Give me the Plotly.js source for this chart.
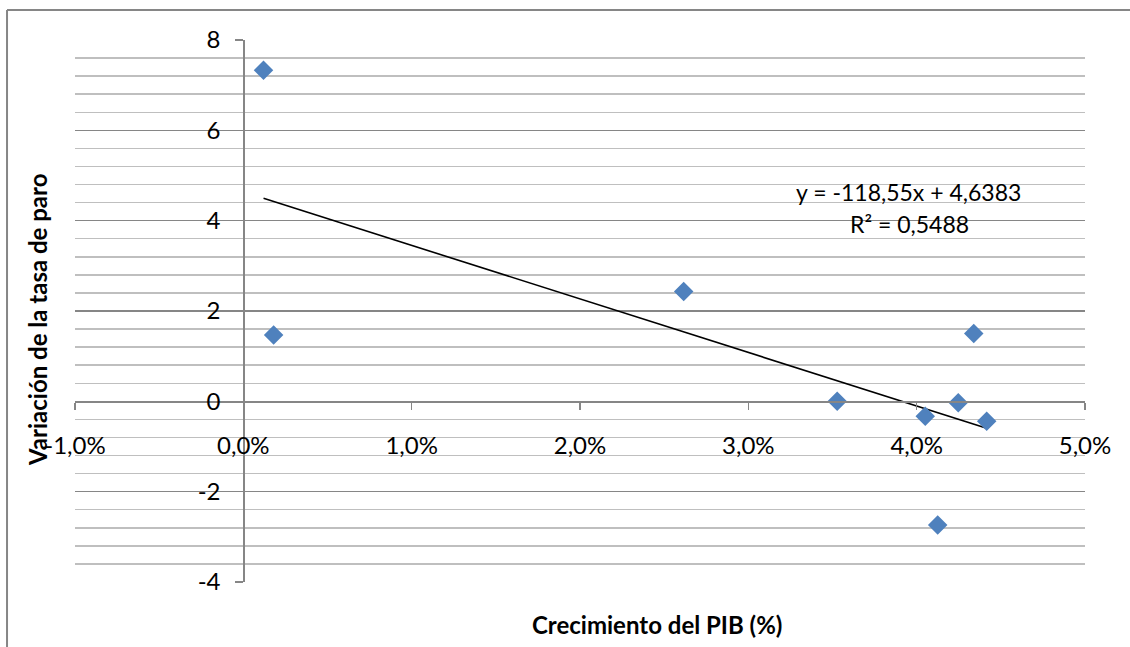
<!DOCTYPE html>
<html>
<head>
<meta charset="utf-8">
<script src="https://cdn.plot.ly/plotly-3.0.1.min.js"></script>
<style>html,body{margin:0;padding:0;background:#fff;}#chart{width:1130px;height:647px;}</style>
</head>
<body>
<div id="chart"></div>
<script>
// Crecimiento del PIB (fracción) y variación de la tasa de paro
var gdpGrowth = [0.0012, 0.0018, 0.02616, 0.03528, 0.04051, 0.04247, 0.04339, 0.04416, 0.04125];
var unempChange = [7.33, 1.47, 2.43, 0.0, -0.33, -0.03, 1.50, -0.44, -2.74];
// Línea de tendencia (según la ecuación mostrada)
var trendSlope = -118.55;
var trendIntercept = 4.6383;
var trendLabel = ["y = -118,55x + 4,6383", "R² = 0,5488"];
var xTickVals = [-0.01, 0, 0.01, 0.02, 0.03, 0.04, 0.05];
var xTickText = ["-1,0%", "0,0%", "1,0%", "2,0%", "3,0%", "4,0%", "5,0%"];
var yTickVals = [-4, -2, 0, 2, 4, 6, 8];
var yTickText = ["-4", "-2", "0", "2", "4", "6", "8"];
var xTitle = "Crecimiento del PIB (%)";
var yTitle = "Variación de la tasa de paro";

var xMin = Math.min.apply(null, gdpGrowth), xMax = Math.max.apply(null, gdpGrowth);
var trendX = [xMin, xMax];
var trendY = trendX.map(function(v){ return trendSlope * v + trendIntercept; });

var font = "Lato, 'Open Sans', sans-serif";
var grey = "#868686";

var traces = [
  {x: trendX, y: trendY, mode: "lines", type: "scatter",
   line: {color: "#000000", width: 1.6}, hoverinfo: "skip", showlegend: false},
  {x: gdpGrowth, y: unempChange, mode: "markers", type: "scatter",
   marker: {symbol: "diamond", size: 15, color: "#4F81BD", line: {width: 0}}, showlegend: false}
];

var layout = {
  width: 1130, height: 647,
  margin: {l: 75, r: 45, t: 40, b: 65},
  paper_bgcolor: "#ffffff", plot_bgcolor: "#ffffff",
  font: {family: font, size: 24, color: "#000000"},
  showlegend: false,
  xaxis: {
    range: [-0.01, 0.05], tickmode: "array", tickvals: xTickVals, ticktext: xTickText,
    anchor: "free", position: 4/12, showgrid: false, zeroline: false,
    showline: true, linecolor: grey, linewidth: 1.5,
    ticks: "outside", ticklen: 7, tickcolor: grey, tickwidth: 1.5,
    ticklabelstandoff: 15, automargin: false,
    tickfont: {family: font, size: 24, color: "#000"}
  },
  yaxis: {
    range: [-4, 8], tickmode: "array", tickvals: yTickVals, ticktext: yTickText,
    anchor: "free", position: 1/6, zeroline: false,
    showgrid: true, gridcolor: grey, gridwidth: 1.5,
    minor: {dtick: 0.4, tick0: 0, showgrid: true, gridcolor: "#bfbfbf", gridwidth: 1.5, ticks: ""},
    showline: true, linecolor: grey, linewidth: 1.5,
    ticks: "outside", ticklen: 8, tickcolor: grey, tickwidth: 1.5,
    ticklabelstandoff: 10, automargin: false,
    tickfont: {family: font, size: 24, color: "#000"}
  },
  annotations: [
    {text: trendLabel[0], xref: "paper", yref: "paper", x: 0.8257, y: 0.7196,
     xanchor: "center", yanchor: "middle", showarrow: false, font: {family: font, size: 23, color: "#000"}},
    {text: trendLabel[1], xref: "paper", yref: "paper", x: 0.8267, y: 0.6605,
     xanchor: "center", yanchor: "middle", showarrow: false, font: {family: font, size: 23, color: "#000"}},
    {text: "<b>" + xTitle + "</b>", xref: "paper", yref: "paper", x: 0.5762, y: -0.0793,
     xanchor: "center", yanchor: "middle", showarrow: false, font: {family: font, size: 24, color: "#000"}},
    {text: "<b>" + yTitle + "</b>", xref: "paper", yref: "paper", x: -0.0366, y: 0.4834,
     xanchor: "center", yanchor: "middle", textangle: -90, showarrow: false, font: {family: font, size: 24, color: "#000"}}
  ],
  shapes: [
    {type: "line", xref: "paper", yref: "paper", x0: -0.0673, x1: 1.1, y0: 1.0554, y1: 1.0554,
     line: {color: grey, width: 2}},
    {type: "line", xref: "paper", yref: "paper", x0: -0.0673, x1: -0.0673, y0: -0.2, y1: 1.0554,
     line: {color: grey, width: 2}}
  ]
};

Plotly.newPlot("chart", traces, layout, {displayModeBar: false, staticPlot: true});
</script>
</body>
</html>
